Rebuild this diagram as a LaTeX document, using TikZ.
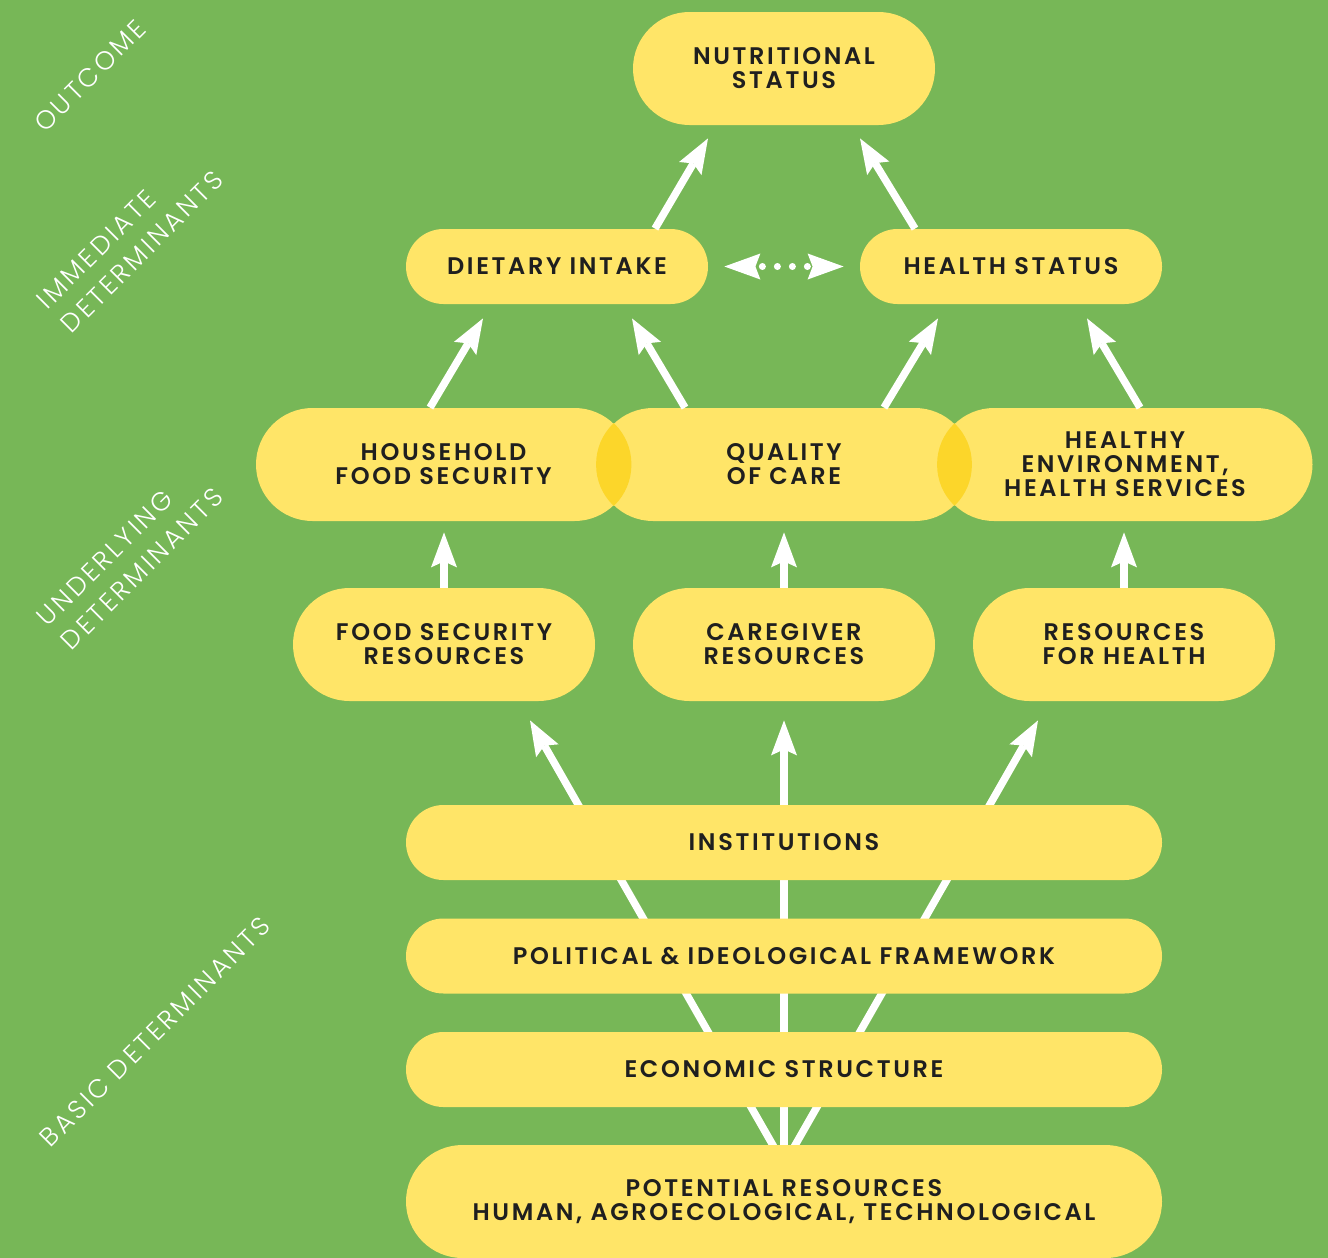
\documentclass[tikz,border=0pt]{standalone}
\usepackage{fontspec}
\setmainfont{Poppins}
\newfontfamily\pillfont[LetterSpace=11]{Poppins SemiBold}
\newfontfamily\sidefont[LetterSpace=12]{Poppins Light}
\usetikzlibrary{arrows.meta}
\definecolor{bggreen}{HTML}{77B757}
\definecolor{pillyellow}{HTML}{FFE568}
\definecolor{lensyellow}{HTML}{FCD62A}
\definecolor{txt}{HTML}{1F1F1F}
\pgfdeclarelayer{bgzero}
\pgfdeclarelayer{bgone}
\pgfsetlayers{bgzero,bgone,main}
\begin{document}
\begin{tikzpicture}[x=0.5pt,y=-0.5pt,
  pilltext/.style={inner sep=0pt, align=center, text=txt, fill=pillyellow,
    font=\pillfont\fontsize{12}{12}\selectfont},
  tallpill/.style={pilltext, rounded corners=28.25pt, minimum height=56.5pt, minimum width=#1},
  shortpill/.style={pilltext, rounded corners=18.75pt, minimum height=37.5pt, minimum width=#1},
  arr/.style={draw=white, line width=3.75pt, -{Stealth[length=17.5pt, width=13pt, inset=3pt, line width=0pt]}},
  sidelabel/.style={text=white, rotate=45, align=left, inner sep=0pt,
    font=\sidefont\fontsize{13}{17}\selectfont},
]
\begin{pgfonlayer}{bgzero}
  \fill[bggreen] (0,0) rectangle (1328,1258);
\end{pgfonlayer}
\useasboundingbox (0,0) rectangle (1328,1258);

% side labels
\node[sidelabel] (lo) at (90,76) {OUTCOME};
\node[sidelabel] (li) at (130,240) {IMMEDIATE\\DETERMINANTS};
\node[sidelabel] (lu) at (130,557) {UNDERLYING\\DETERMINANTS};
\node[sidelabel] (lb) at (155,1032) {BASIC DETERMINANTS};

% nodes
\node[tallpill=151pt] (nut) at (784,68.5) {NUTRITIONAL\\STATUS};
\node[shortpill=151pt] (di) at (557,266.5) {DIETARY INTAKE};
\node[shortpill=151pt] (hs) at (1011,266.5) {HEALTH STATUS};

\node[tallpill=187.5pt] (hfs) at (443.5,464.5) {HOUSEHOLD\\FOOD SECURITY};
\node[tallpill=187.5pt] (qoc) at (784,464.5) {QUALITY\\OF CARE};
\node[tallpill=187.5pt] (he) at (1125,464.5) {HEALTHY\\ENVIRONMENT,\\HEALTH SERVICES};

% lens overlaps
\begin{scope}
  \clip[rounded corners=28.25pt] (hfs.south west) rectangle (hfs.north east);
  \fill[lensyellow, rounded corners=28.25pt] (qoc.south west) rectangle (qoc.north east);
\end{scope}
\begin{scope}
  \clip[rounded corners=28.25pt] (qoc.south west) rectangle (qoc.north east);
  \fill[lensyellow, rounded corners=28.25pt] (he.south west) rectangle (he.north east);
\end{scope}

\node[tallpill=151pt] (fsr) at (444,644.5) {FOOD SECURITY\\RESOURCES};
\node[tallpill=151pt] (cr) at (784,644.5) {CAREGIVER\\RESOURCES};
\node[tallpill=151pt] (rh) at (1124,644.5) {RESOURCES\\FOR HEALTH};

\node[shortpill=378pt] (inst) at (784,842.5) {INSTITUTIONS};
\node[shortpill=378pt] (pol) at (784,956) {POLITICAL \& IDEOLOGICAL FRAMEWORK};
\node[shortpill=378pt] (eco) at (784,1069.5) {ECONOMIC STRUCTURE};
\node[tallpill=378pt] (pr) at (784,1201.5) {POTENTIAL RESOURCES\\HUMAN, AGROECOLOGICAL, TECHNOLOGICAL};

% fan arrows from potential resources (behind boxes)
\begin{pgfonlayer}{bgone}
  \draw[arr] ([yshift=-10pt]pr.north) -- ([xshift=43pt,yshift=-9.5pt]fsr.south);
  \draw[arr] ([yshift=-10pt]pr.north) -- ([yshift=-9.5pt]cr.south);
  \draw[arr] ([yshift=-10pt]pr.north) -- ([xshift=-43pt,yshift=-9.5pt]rh.south);
\end{pgfonlayer}

% upward arrows
\draw[arr] ([xshift=49pt]di.north) -- ([xshift=-38pt,yshift=-6.5pt]nut.south);
\draw[arr] ([xshift=-48pt]hs.north) -- ([xshift=38pt,yshift=-6.5pt]nut.south);
\draw[arr] ([xshift=-6.75pt]hfs.north) -- ([xshift=-37pt,yshift=-7pt]di.south);
\draw[arr] ([xshift=-49.5pt]qoc.north) -- ([xshift=37.5pt,yshift=-7pt]di.south);
\draw[arr] ([xshift=50pt]qoc.north) -- ([xshift=-36.5pt,yshift=-7pt]hs.south);
\draw[arr] ([xshift=7.5pt]he.north) -- ([xshift=38pt,yshift=-7pt]hs.south);
\draw[arr, shorten >=5.5pt] (fsr.north) -- (fsr.north |- hfs.south);
\draw[arr, shorten >=5.5pt] (cr.north) -- (cr.north |- qoc.south);
\draw[arr, shorten >=5.5pt] (rh.north) -- (rh.north |- he.south);

% dotted double arrow between dietary intake and health status
\draw[draw=bggreen, line width=1pt,
  {Stealth[length=18pt, width=13pt, inset=2.5pt, color=white, line width=0pt]}-{Stealth[length=18pt, width=13pt, inset=2.5pt, color=white, line width=0pt]},
  shorten <=8pt, shorten >=8pt] (di.east) -- (hs.west);
\draw[white, line width=3.5pt, line cap=round, dash pattern=on 0pt off 7.5pt,
  shorten <=27pt, shorten >=26pt] (di.east) -- (hs.west);
\end{tikzpicture}
\end{document}
